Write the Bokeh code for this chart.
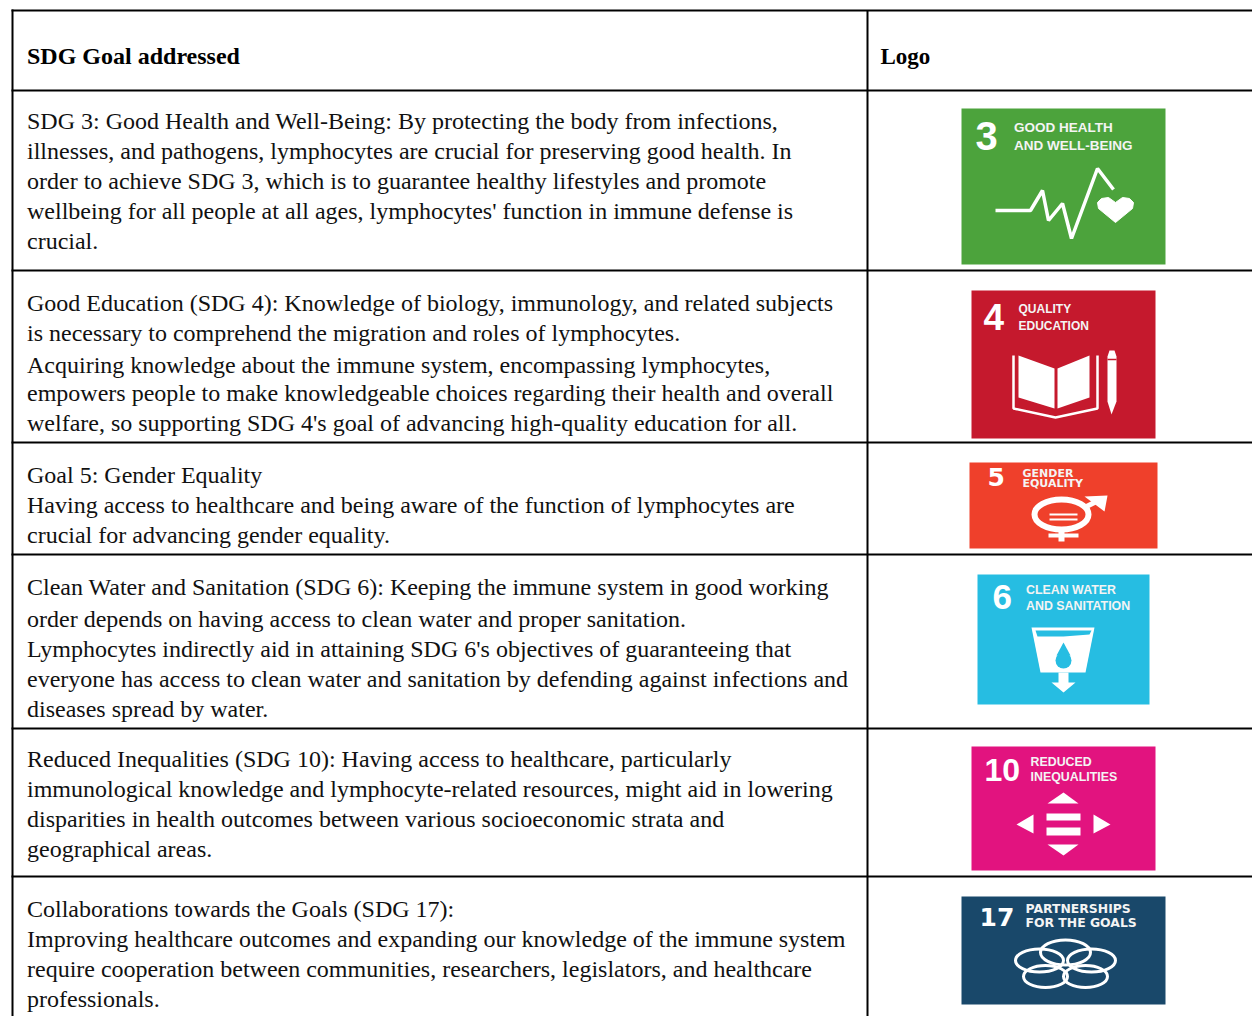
from bokeh.plotting import figure
from bokeh.models import Range1d
from bokeh.core.properties import value
from bokeh.embed import file_html
from bokeh.resources import INLINE

# ---- table contents ----
header_left = "SDG Goal addressed"
header_right = "Logo"
row_lines = [
    ["SDG 3: Good Health and Well-Being:  By protecting the body from infections,",
     "illnesses, and pathogens, lymphocytes are crucial for preserving good health. In",
     "order to achieve SDG 3, which is to guarantee healthy lifestyles and promote",
     "wellbeing for all people at all ages, lymphocytes' function in immune defense is",
     "crucial."],
    ["Good Education (SDG 4): Knowledge of biology, immunology, and related subjects",
     "is necessary to comprehend the migration and roles of lymphocytes.",
     "Acquiring knowledge about the immune system, encompassing lymphocytes,",
     "empowers people to make knowledgeable choices regarding their health and overall",
     "welfare, so supporting SDG 4's goal of advancing high-quality education for all."],
    ["Goal 5: Gender Equality",
     "Having access to healthcare and being aware of the function of lymphocytes are",
     "crucial for advancing gender equality."],
    ["Clean Water and Sanitation (SDG 6): Keeping the immune system in good working",
     "order depends on having access to clean water and proper sanitation.",
     "Lymphocytes indirectly aid in attaining SDG 6's objectives of guaranteeing that",
     "everyone has access to clean water and sanitation by defending against infections and",
     "diseases spread by water."],
    ["Reduced Inequalities (SDG 10): Having access to healthcare, particularly",
     "immunological knowledge and lymphocyte-related resources, might aid in lowering",
     "disparities in health outcomes between various socioeconomic strata and",
     "geographical areas."],
    ["Collaborations towards the Goals (SDG 17):",
     "Improving healthcare outcomes and expanding our knowledge of the immune system",
     "require cooperation between communities, researchers, legislators, and healthcare",
     "professionals."],
]
row_baselines = [
    [130, 160, 190, 220, 250],
    [312, 342, 374, 402, 432],
    [484, 514, 544],
    [596, 628, 658, 688, 718],
    [768, 798, 828, 858],
    [918, 948, 978, 1008],
]
rule_ys = [10, 90, 270, 442, 554, 728, 876]

logo_colors = ["#4CA33C", "#C5192D", "#EF402B", "#26BDE2", "#E2137F", "#19486A"]
logo_boxes = [
    (961, 108, 1165, 264), (971, 290, 1155, 438), (969, 462, 1157, 548),
    (977, 574, 1149, 704), (971, 746, 1155, 870), (961, 896, 1165, 1004),
]
logo_numbers = ["3", "4", "5", "6", "10", "17"]
logo_number_pos = [(975, 151, 40, "Liberation Sans"), (983, 331, 37, "Liberation Sans"), (987, 486, 25, "DejaVu Sans"),
                   (992, 610, 35, "Liberation Sans"), (984, 782, 32, "Liberation Sans"), (979, 926, 25, "DejaVu Sans")]
logo_titles = [
    ["GOOD HEALTH", "AND WELL-BEING"], ["QUALITY", "EDUCATION"], ["GENDER", "EQUALITY"],
    ["CLEAN WATER", "AND SANITATION"], ["REDUCED", "INEQUALITIES"], ["PARTNERSHIPS", "FOR THE GOALS"],
]
logo_title_pos = [(1013.5, [132, 150], 13.5, "Liberation Sans"), (1018, [313, 330], 12, "Liberation Sans"),
                  (1022, [477, 487], 11, "DejaVu Sans"), (1025.5, [594, 610], 12.4, "Liberation Sans"),
                  (1030, [766, 781], 12.4, "Liberation Sans"), (1025, [913, 927], 12.4, "DejaVu Sans")]

BASE = 0.38  # the page draws "alphabetic" text this far (in em) under the anchor

p = figure(width=1252, height=1016, output_backend="svg", toolbar_location=None,
           x_range=Range1d(0, 1252), y_range=Range1d(1016, 0), min_border=0,
           x_axis_location=None, y_axis_location=None, outline_line_color=None)
p.xgrid.visible = False
p.ygrid.visible = False
SERIF = value("Liberation Serif")

# ---- rules ----
for y in rule_ys:
    p.line([11, 1252], [y, y], line_color="black", line_width=2)
p.line([12, 12], [9, 1016], line_color="black", line_width=2)
p.line([867, 867], [10, 1016], line_color="black", line_width=2)

# ---- text ----
FS = 24
TX = 26.5
p.text([TX], [65 - BASE * FS], text=[header_left], text_font=SERIF, text_font_size=f"{FS}px",
       text_font_style="bold", text_baseline="alphabetic", text_color="black")
p.text([880], [65 - BASE * FS], text=[header_right], text_font=SERIF, text_font_size="23px",
       text_font_style="bold", text_baseline="alphabetic", text_color="black")
for lines, ys in zip(row_lines, row_baselines):
    p.text([TX] * len(lines), [y - BASE * FS for y in ys], text=lines, text_font=SERIF,
           text_font_size=f"{FS}px", text_baseline="alphabetic", text_color="#111111")

# ---- logos ----
for c, (x0, y0, x1, y1) in zip(logo_colors, logo_boxes):
    p.quad(left=[x0], right=[x1], top=[y0], bottom=[y1], fill_color=c, line_color=None)
for n, (x, y, s, f) in zip(logo_numbers, logo_number_pos):
    p.text([x], [y - BASE * s], text=[n], text_font=value(f), text_font_style="bold",
           text_font_size=f"{s}px", text_baseline="alphabetic", text_color="white")
for t, (x, ys, s, f) in zip(logo_titles, logo_title_pos):
    p.text([x, x], [y - BASE * s for y in ys], text=t, text_font=value(f), text_font_style="bold",
           text_font_size=f"{s}px", text_baseline="alphabetic", text_color="#F4F4F4")

W = "white"
# SDG 3
p.line([995, 1030, 1042, 1048, 1062, 1071, 1097, 1113], [210, 210, 190, 220, 203, 238, 168, 189],
       line_color=W, line_width=3.5)
p.patch([1115, 1098, 1097, 1101, 1108, 1115, 1122, 1129, 1133, 1132], [222, 208, 202, 198, 197, 202, 197, 198, 202, 208],
        fill_color=W, line_color=W)
# SDG 4
p.patch([1018, 1054, 1054, 1018], [355, 368, 408, 397], fill_color=W, line_color=None)
p.patch([1057, 1089, 1089, 1057], [368, 355, 397, 408], fill_color=W, line_color=None)
p.line([1013, 1013, 1055, 1097, 1097], [355, 408, 417, 408, 355], line_color=W, line_width=2.5)
p.patch([1107, 1109, 1114, 1116, 1116, 1111, 1107], [356, 350, 350, 356, 401, 414, 401], fill_color=W, line_color=None)
p.line([1107, 1116], [359, 359], line_color=logo_colors[1], line_width=1.5)
# SDG 5
p.ellipse([1061], [514], width=54, height=30, fill_color=None, line_color=W, line_width=6)
p.line([1049, 1077], [514, 514], line_color=W, line_width=2)
p.line([1049, 1077], [519, 519], line_color=W, line_width=2)
p.line([1061, 1061], [530, 541], line_color=W, line_width=6)
p.line([1048, 1078], [535, 535], line_color=W, line_width=4)
p.line([1084, 1102], [507, 498], line_color=W, line_width=5)
p.patch([1084, 1107, 1104], [496, 495, 511], fill_color=W, line_color=None)
# SDG 6
p.patch([1031, 1094, 1085, 1040], [627, 627, 672, 672], fill_color=W, line_color=None)
p.patch([1035, 1091, 1089, 1063, 1037], [630, 630, 634, 636, 636], fill_color=logo_colors[3], line_color=None)
p.patch([1058, 1068, 1068, 1075, 1063, 1051, 1058], [672, 672, 682, 682, 692, 682, 682], fill_color=W, line_color=None)
p.circle([1063], [660], radius=8, fill_color=logo_colors[3], line_color=None)
p.patch([1063, 1056, 1070], [642, 655, 655], fill_color=logo_colors[3], line_color=None)
# SDG 10
p.patch([1047, 1078, 1063], [803, 803, 792], fill_color=W, line_color=None)
p.patch([1047, 1078, 1063], [844, 844, 855], fill_color=W, line_color=None)
p.patch([1033, 1033, 1016], [814, 833, 824], fill_color=W, line_color=None)
p.patch([1093, 1093, 1110], [814, 833, 824], fill_color=W, line_color=None)
p.quad(left=[1046, 1046], right=[1080, 1080], top=[813, 827], bottom=[820, 835], fill_color=W, line_color=None)
# SDG 17
p.ellipse([1039, 1091, 1065, 1045, 1085], [960, 960, 952, 976, 976],
          width=[48, 48, 50, 44, 44], height=[23, 23, 25, 22, 22],
          fill_color=None, line_color=W, line_width=3)

open("out.html", "w").write(file_html(p, INLINE))
